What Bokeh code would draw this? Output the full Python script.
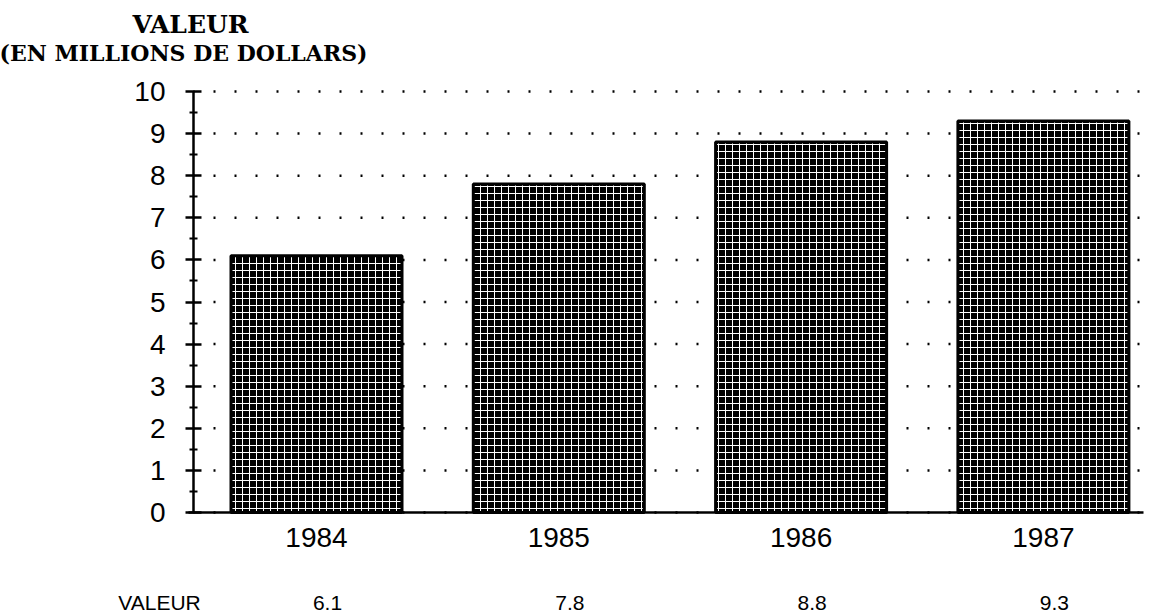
from bokeh.plotting import figure
from bokeh.models import Range1d, FixedTicker, LinearAxis, ColumnDataSource
from bokeh.core.properties import value
from bokeh.embed import file_html
from bokeh.resources import INLINE

years = ["1984", "1985", "1986", "1987"]
values = [6.1, 7.8, 8.8, 9.3]
value_labels = ["6.1", "7.8", "8.8", "9.3"]
y_ticks = list(range(0, 11))
title_line1 = "VALEUR"
title_line2 = "(EN MILLIONS DE DOLLARS)"
row_label = "VALEUR"

# ---- canvas geometry (pixels) ----
W, H = 1148, 615
PX_CAT0, PX_PER_CAT = 316.0, 242.3      # pixel x of first category, pixels per category
PY_ZERO, PY_PER_UNIT = 512.0, 42.1      # pixel y of value 0, pixels per value unit


def dx(px):
    return (px - PX_CAT0) / PX_PER_CAT


def dy(py):
    return (PY_ZERO - py) / PY_PER_UNIT


X_AXIS = dx(193)      # where the value axis stands
X_END = dx(1143)      # right end of the chart area

xs = list(range(len(years)))
src = ColumnDataSource(dict(x=xs, top=values, lab=value_labels))

p = figure(width=W, height=H, output_backend="svg", toolbar_location=None,
           x_range=Range1d(dx(0), dx(W)), y_range=Range1d(dy(H), dy(0)),
           min_border=0, x_axis_location=None, y_axis_location=None)
p.outline_line_color = None
p.grid.visible = False
p.background_fill_color = "white"
p.border_fill_color = "white"

# dotted horizontal grid lines, one per y tick, across the chart area
p.segment(x0=[X_AXIS] * len(y_ticks), x1=[X_END] * len(y_ticks), y0=y_ticks, y1=y_ticks,
          line_color="black", line_width=2.5, line_dash="2 19", line_dash_offset=1)

p.vbar(x="x", top="top", bottom=0, width=171 / PX_PER_CAT, source=src,
       fill_color="black", line_color="black", line_width=3,
       hatch_pattern="cross", hatch_color="white", hatch_scale=7, hatch_weight=1.0)

yaxis = LinearAxis(ticker=FixedTicker(ticks=y_ticks, minor_ticks=[i + 0.5 for i in range(10)]),
                   bounds=(0, 10), fixed_location=X_AXIS)
yaxis.axis_line_width = 2.5
yaxis.axis_line_color = "black"
yaxis.major_tick_line_width = 2.5
yaxis.major_tick_in = 8
yaxis.major_tick_out = 8
yaxis.minor_tick_line_width = 2
yaxis.minor_tick_in = 4
yaxis.minor_tick_out = 4
yaxis.major_label_standoff = 20
yaxis.major_label_text_font = "Liberation Sans"
yaxis.major_label_text_font_size = "28px"
yaxis.major_label_text_color = "black"
p.add_layout(yaxis, "left")

xaxis = LinearAxis(ticker=FixedTicker(ticks=xs), fixed_location=0,
                   bounds=(dx(188), X_END),
                   major_label_overrides={i: y for i, y in zip(xs, years)})
xaxis.axis_line_width = 2.5
xaxis.axis_line_color = "black"
xaxis.major_tick_line_color = None
xaxis.minor_tick_line_color = None
xaxis.major_tick_in = 0
xaxis.major_tick_out = 0
xaxis.major_label_standoff = 15
xaxis.major_label_text_font = "Liberation Sans"
xaxis.major_label_text_font_size = "28px"
xaxis.major_label_text_color = "black"
p.add_layout(xaxis, "below")

# header
p.text(x=[dx(190)], y=[dy(24)], text=[title_line1], text_font=value("DejaVu Serif"),
       text_font_style="bold", text_font_size="25px", text_align="center",
       text_baseline="alphabetic", text_color="black")
p.text(x=[dx(183)], y=[dy(52)], text=[title_line2], text_font=value("DejaVu Serif"),
       text_font_style="bold", text_font_size="22px", text_align="center",
       text_baseline="alphabetic", text_color="black")

# value row under the chart
p.text(x="x", y=dy(602), text="lab", source=src, x_offset=11,
       text_font=value("Liberation Sans"), text_font_size="21px",
       text_align="center", text_baseline="alphabetic", text_color="black")
p.text(x=[dx(159)], y=[dy(602)], text=[row_label],
       text_font=value("Liberation Sans"), text_font_size="21px",
       text_align="center", text_baseline="alphabetic", text_color="black")

open("out.html", "w").write(file_html(p, INLINE))
